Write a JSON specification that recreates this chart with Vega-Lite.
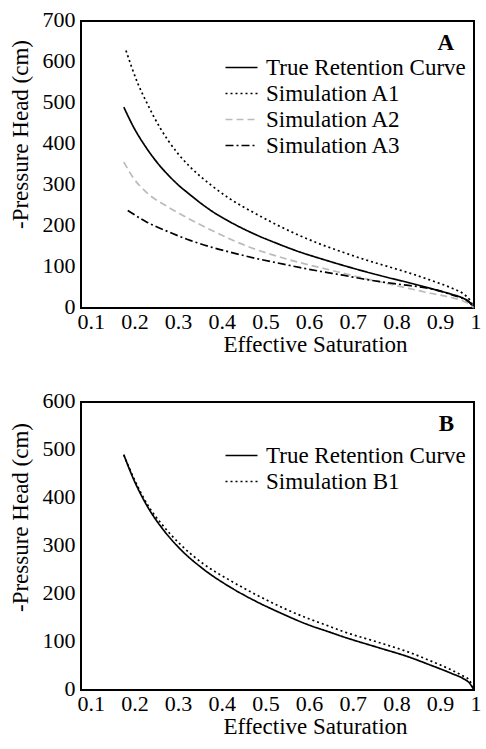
{
  "$schema": "https://vega.github.io/schema/vega-lite/v6.json",
  "padding": {"left": 8, "top": 7, "right": 0, "bottom": 0},
  "bounds": "flush",
  "spacing": 94,
  "resolve": {"scale": {"color": "independent", "strokeDash": "independent", "x": "independent", "y": "independent"}, "legend": {"color": "independent", "strokeDash": "independent"}},
  "config": {
    "font": "Liberation Serif, serif",
    "view": {"stroke": "black", "strokeWidth": 2},
    "axis": {"grid": false, "ticks": false, "domain": false, "labelFont": "Liberation Serif, serif", "labelFontSize": 22, "labelColor": "black", "titleFont": "Liberation Serif, serif", "titleFontSize": 23, "titleFontWeight": "normal", "titleColor": "black", "labelFlush": false, "labelOverlap": false},
    "legend": {"labelFont": "Liberation Serif, serif", "labelFontSize": 23, "labelColor": "black", "labelLimit": 400, "padding": 0, "rowPadding": 2, "labelOffset": 13, "symbolSize": 400, "symbolStrokeWidth": 1.7},
    "title": {"font": "Liberation Serif, serif"},
    "line": {"strokeWidth": 1.7, "interpolate": "monotone"}
  },
  "datasets": {
    "a": [
      {"series": "True Retention Curve", "s": 0.198, "h": 490},
      {"series": "True Retention Curve", "s": 0.22, "h": 442},
      {"series": "True Retention Curve", "s": 0.25, "h": 390},
      {"series": "True Retention Curve", "s": 0.275, "h": 354},
      {"series": "True Retention Curve", "s": 0.3, "h": 324},
      {"series": "True Retention Curve", "s": 0.325, "h": 298},
      {"series": "True Retention Curve", "s": 0.35, "h": 276},
      {"series": "True Retention Curve", "s": 0.375, "h": 255},
      {"series": "True Retention Curve", "s": 0.4, "h": 236},
      {"series": "True Retention Curve", "s": 0.45, "h": 205},
      {"series": "True Retention Curve", "s": 0.5, "h": 179},
      {"series": "True Retention Curve", "s": 0.55, "h": 157},
      {"series": "True Retention Curve", "s": 0.6, "h": 137},
      {"series": "True Retention Curve", "s": 0.65, "h": 120},
      {"series": "True Retention Curve", "s": 0.7, "h": 104},
      {"series": "True Retention Curve", "s": 0.75, "h": 89},
      {"series": "True Retention Curve", "s": 0.8, "h": 75},
      {"series": "True Retention Curve", "s": 0.85, "h": 62},
      {"series": "True Retention Curve", "s": 0.9, "h": 48},
      {"series": "True Retention Curve", "s": 0.95, "h": 33},
      {"series": "True Retention Curve", "s": 0.975, "h": 24},
      {"series": "True Retention Curve", "s": 0.99, "h": 14},
      {"series": "True Retention Curve", "s": 1.0, "h": 0},
      {"series": "Simulation A1", "s": 0.203, "h": 628},
      {"series": "Simulation A1", "s": 0.23, "h": 548},
      {"series": "Simulation A1", "s": 0.25, "h": 502},
      {"series": "Simulation A1", "s": 0.283, "h": 436},
      {"series": "Simulation A1", "s": 0.3, "h": 408},
      {"series": "Simulation A1", "s": 0.324, "h": 374},
      {"series": "Simulation A1", "s": 0.35, "h": 344},
      {"series": "Simulation A1", "s": 0.4, "h": 298},
      {"series": "Simulation A1", "s": 0.44, "h": 267},
      {"series": "Simulation A1", "s": 0.5, "h": 230},
      {"series": "Simulation A1", "s": 0.55, "h": 202},
      {"series": "Simulation A1", "s": 0.6, "h": 177},
      {"series": "Simulation A1", "s": 0.65, "h": 155},
      {"series": "Simulation A1", "s": 0.7, "h": 136},
      {"series": "Simulation A1", "s": 0.75, "h": 118},
      {"series": "Simulation A1", "s": 0.8, "h": 102},
      {"series": "Simulation A1", "s": 0.85, "h": 86},
      {"series": "Simulation A1", "s": 0.9, "h": 68},
      {"series": "Simulation A1", "s": 0.95, "h": 48},
      {"series": "Simulation A1", "s": 0.975, "h": 35},
      {"series": "Simulation A1", "s": 0.99, "h": 20},
      {"series": "Simulation A1", "s": 1.0, "h": 0},
      {"series": "Simulation A2", "s": 0.198, "h": 356},
      {"series": "Simulation A2", "s": 0.22, "h": 317},
      {"series": "Simulation A2", "s": 0.25, "h": 282},
      {"series": "Simulation A2", "s": 0.3, "h": 246},
      {"series": "Simulation A2", "s": 0.35, "h": 216},
      {"series": "Simulation A2", "s": 0.4, "h": 189},
      {"series": "Simulation A2", "s": 0.45, "h": 164},
      {"series": "Simulation A2", "s": 0.5, "h": 143},
      {"series": "Simulation A2", "s": 0.55, "h": 126},
      {"series": "Simulation A2", "s": 0.6, "h": 111},
      {"series": "Simulation A2", "s": 0.65, "h": 98},
      {"series": "Simulation A2", "s": 0.7, "h": 85},
      {"series": "Simulation A2", "s": 0.75, "h": 72},
      {"series": "Simulation A2", "s": 0.8, "h": 60},
      {"series": "Simulation A2", "s": 0.85, "h": 48},
      {"series": "Simulation A2", "s": 0.9, "h": 36},
      {"series": "Simulation A2", "s": 0.95, "h": 25},
      {"series": "Simulation A2", "s": 0.975, "h": 17},
      {"series": "Simulation A2", "s": 0.99, "h": 9},
      {"series": "Simulation A2", "s": 1.0, "h": 0},
      {"series": "Simulation A3", "s": 0.207, "h": 238},
      {"series": "Simulation A3", "s": 0.25, "h": 210},
      {"series": "Simulation A3", "s": 0.3, "h": 186},
      {"series": "Simulation A3", "s": 0.35, "h": 165},
      {"series": "Simulation A3", "s": 0.4, "h": 148},
      {"series": "Simulation A3", "s": 0.45, "h": 134},
      {"series": "Simulation A3", "s": 0.5, "h": 121},
      {"series": "Simulation A3", "s": 0.55, "h": 110},
      {"series": "Simulation A3", "s": 0.6, "h": 99},
      {"series": "Simulation A3", "s": 0.65, "h": 89},
      {"series": "Simulation A3", "s": 0.7, "h": 80},
      {"series": "Simulation A3", "s": 0.75, "h": 70},
      {"series": "Simulation A3", "s": 0.8, "h": 62},
      {"series": "Simulation A3", "s": 0.85, "h": 55},
      {"series": "Simulation A3", "s": 0.88, "h": 51},
      {"series": "Simulation A3", "s": 0.9, "h": 47},
      {"series": "Simulation A3", "s": 0.95, "h": 32},
      {"series": "Simulation A3", "s": 0.975, "h": 23},
      {"series": "Simulation A3", "s": 0.99, "h": 13},
      {"series": "Simulation A3", "s": 1.0, "h": 0}
    ],
    "b": [
      {"series": "True Retention Curve", "s": 0.198, "h": 490},
      {"series": "True Retention Curve", "s": 0.22, "h": 440},
      {"series": "True Retention Curve", "s": 0.253, "h": 381},
      {"series": "True Retention Curve", "s": 0.29, "h": 332},
      {"series": "True Retention Curve", "s": 0.329, "h": 292},
      {"series": "True Retention Curve", "s": 0.38, "h": 252},
      {"series": "True Retention Curve", "s": 0.444, "h": 213},
      {"series": "True Retention Curve", "s": 0.5, "h": 185},
      {"series": "True Retention Curve", "s": 0.558, "h": 160},
      {"series": "True Retention Curve", "s": 0.62, "h": 136},
      {"series": "True Retention Curve", "s": 0.668, "h": 121},
      {"series": "True Retention Curve", "s": 0.7, "h": 111},
      {"series": "True Retention Curve", "s": 0.782, "h": 88},
      {"series": "True Retention Curve", "s": 0.85, "h": 69},
      {"series": "True Retention Curve", "s": 0.897, "h": 53},
      {"series": "True Retention Curve", "s": 0.95, "h": 34},
      {"series": "True Retention Curve", "s": 0.975, "h": 24},
      {"series": "True Retention Curve", "s": 0.989, "h": 15},
      {"series": "True Retention Curve", "s": 1.0, "h": 0},
      {"series": "Simulation B1", "s": 0.198, "h": 490},
      {"series": "Simulation B1", "s": 0.22, "h": 443},
      {"series": "Simulation B1", "s": 0.253, "h": 385},
      {"series": "Simulation B1", "s": 0.29, "h": 340},
      {"series": "Simulation B1", "s": 0.329, "h": 302},
      {"series": "Simulation B1", "s": 0.38, "h": 263},
      {"series": "Simulation B1", "s": 0.444, "h": 227},
      {"series": "Simulation B1", "s": 0.5, "h": 199},
      {"series": "Simulation B1", "s": 0.558, "h": 173},
      {"series": "Simulation B1", "s": 0.62, "h": 149},
      {"series": "Simulation B1", "s": 0.668, "h": 133},
      {"series": "Simulation B1", "s": 0.7, "h": 122},
      {"series": "Simulation B1", "s": 0.782, "h": 99},
      {"series": "Simulation B1", "s": 0.85, "h": 79},
      {"series": "Simulation B1", "s": 0.897, "h": 62},
      {"series": "Simulation B1", "s": 0.95, "h": 41},
      {"series": "Simulation B1", "s": 0.975, "h": 29},
      {"series": "Simulation B1", "s": 0.989, "h": 21},
      {"series": "Simulation B1", "s": 1.0, "h": 0}
    ]
  },
  "vconcat": [
    {
      "width": 393,
      "height": 287,
      "data": {"name": "a"},
      "title": {"text": "A", "anchor": "end", "frame": "group", "font": "Liberation Serif, serif", "fontSize": 23, "fontWeight": "bold", "color": "black", "dx": -20, "dy": 65, "offset": 0, "baseline": "alphabetic"},
      "mark": {"type": "line"},
      "encoding": {
        "x": {"field": "s", "type": "quantitative", "scale": {"domain": [0.1, 1], "nice": false, "zero": false},
          "axis": {"title": "Effective Saturation", "values": [0.1, 0.2, 0.3, 0.4, 0.5, 0.6, 0.7, 0.8, 0.9, 1], "format": "~g", "labelAlign": "left", "labelOffset": -4, "labelPadding": 3, "titleX": 234, "titleY": 43, "titleBaseline": "alphabetic", "titleAlign": "center"}},
        "y": {"field": "h", "type": "quantitative", "scale": {"domain": [0, 700], "nice": false},
          "axis": {"title": "-Pressure Head (cm)", "values": [0, 100, 200, 300, 400, 500, 600, 700], "labelPadding": 6, "labelOffset": -2, "titlePadding": 10, "titleY": 113}},
        "color": {"field": "series", "type": "nominal",
          "scale": {"domain": ["True Retention Curve", "Simulation A1", "Simulation A2", "Simulation A3"], "range": ["black", "black", "#bbbbbb", "black"]},
          "legend": {"orient": "none", "legendX": 149, "legendY": 35, "title": null, "symbolType": "M-1.6,0H1.6"}},
        "strokeDash": {"field": "series", "type": "nominal",
          "scale": {"domain": ["True Retention Curve", "Simulation A1", "Simulation A2", "Simulation A3"], "range": [[1, 0], [2, 3], [7, 4], [8, 3, 2, 3]]},
          "legend": {"orient": "none", "legendX": 149, "legendY": 35, "title": null, "symbolType": "M-1.6,0H1.6"}}
      }
    },
    {
      "width": 393,
      "height": 288,
      "data": {"name": "b"},
      "title": {"text": "B", "anchor": "end", "frame": "group", "font": "Liberation Serif, serif", "fontSize": 23, "fontWeight": "bold", "color": "black", "dx": -20, "dy": 65, "offset": 0, "baseline": "alphabetic"},
      "mark": {"type": "line"},
      "encoding": {
        "x": {"field": "s", "type": "quantitative", "scale": {"domain": [0.1, 1], "nice": false, "zero": false},
          "axis": {"title": "Effective Saturation", "values": [0.1, 0.2, 0.3, 0.4, 0.5, 0.6, 0.7, 0.8, 0.9, 1], "format": "~g", "labelAlign": "left", "labelOffset": -4, "labelPadding": 3, "titleX": 234, "titleY": 43, "titleBaseline": "alphabetic", "titleAlign": "center"}},
        "y": {"field": "h", "type": "quantitative", "scale": {"domain": [0, 600], "nice": false},
          "axis": {"title": "-Pressure Head (cm)", "values": [0, 100, 200, 300, 400, 500, 600], "labelPadding": 6, "labelOffset": -2, "titlePadding": 10, "titleY": 115}},
        "color": {"field": "series", "type": "nominal",
          "scale": {"domain": ["True Retention Curve", "Simulation B1"], "range": ["black", "black"]},
          "legend": {"orient": "none", "legendX": 149, "legendY": 42, "title": null, "symbolType": "M-1.6,0H1.6"}},
        "strokeDash": {"field": "series", "type": "nominal",
          "scale": {"domain": ["True Retention Curve", "Simulation B1"], "range": [[1, 0], [2, 3]]},
          "legend": {"orient": "none", "legendX": 149, "legendY": 42, "title": null, "symbolType": "M-1.6,0H1.6"}}
      }
    }
  ]
}
